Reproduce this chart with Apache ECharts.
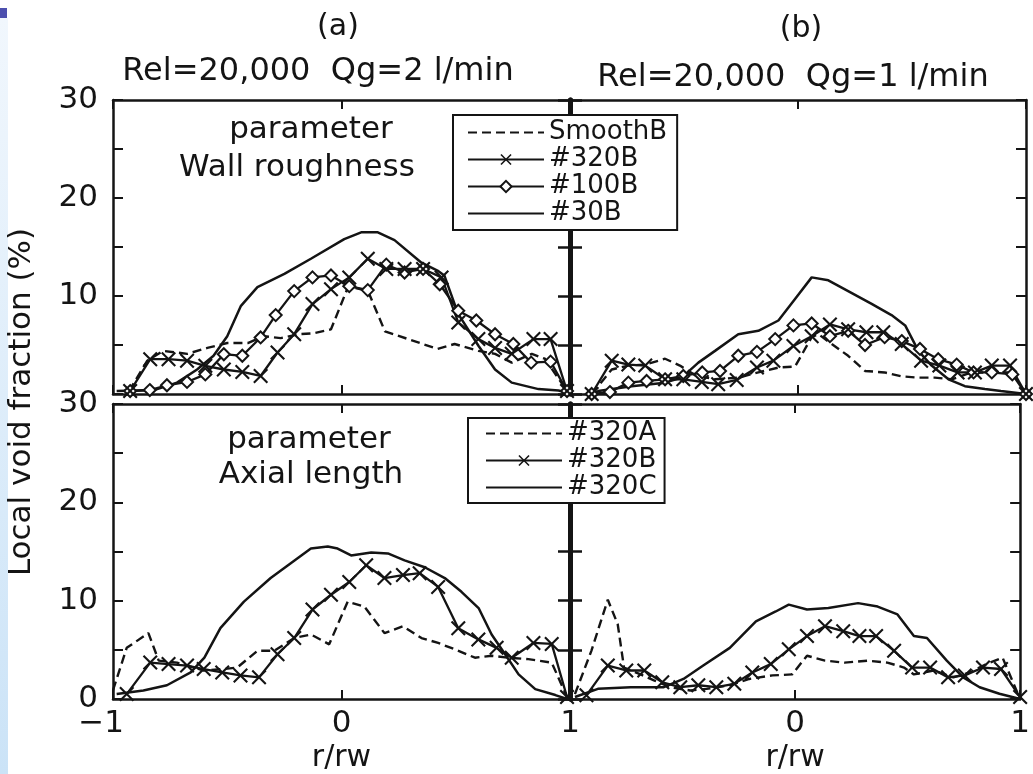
<!DOCTYPE html>
<html>
<head>
<meta charset="utf-8">
<script src="https://cdn.jsdelivr.net/npm/echarts/dist/echarts.min.js"></script>
<style>
html, body { margin: 0; padding: 0; background: #fff; }
#chart { width: 1033px; height: 774px; }
</style>
</head>
<body>
<div id="chart"></div>
<script>
// ---- data: local void fraction (%) against r/rw ----
// (a) Rel=20,000, Qg=2 l/min — wall roughness
const smoothB_a = [[-0.93,0.3],[-0.85,3.4],[-0.78,4.4],[-0.675,4.1],[-0.587,4.7],[-0.5,5.2],[-0.41,5.2],[-0.34,5.9],[-0.266,5.7],[-0.19,6.1],[-0.12,6.2],[-0.046,6.6],[0.03,11.0],[0.116,10.5],[0.19,6.4],[0.42,4.6],[0.495,5.1],[0.599,4.4],[0.672,4.1],[0.745,3.2],[0.833,4.1],[0.89,3.6],[0.987,0.3]];
const r320B_a = [[-0.925,0.3],[-0.837,3.55],[-0.757,3.55],[-0.676,3.4],[-0.596,2.87],[-0.515,2.5],[-0.434,2.25],[-0.354,1.84],[-0.28,4.23],[-0.207,6.1],[-0.127,9.18],[-0.046,10.7],[0.034,11.9],[0.115,13.8],[0.196,12.76],[0.276,12.76],[0.357,12.76],[0.438,11.9],[0.511,7.3],[0.599,5.6],[0.672,4.7],[0.745,4.1],[0.84,5.6],[0.915,5.6],[0.987,0.3]];
const r100B_a = [[-0.925,0.3],[-0.839,0.4],[-0.764,0.89],[-0.676,1.23],[-0.596,2.0],[-0.515,4.06],[-0.434,3.9],[-0.354,5.77],[-0.288,8.05],[-0.207,10.5],[-0.127,11.9],[-0.046,12.1],[0.034,11.0],[0.115,10.6],[0.196,13.2],[0.276,12.4],[0.357,12.76],[0.43,11.2],[0.511,8.5],[0.59,7.5],[0.672,6.1],[0.752,5.1],[0.83,3.2],[0.915,3.3],[0.987,0.3]];
const r30B_a = [[-0.984,0.3],[-0.82,0.4],[-0.72,1.16],[-0.632,2.5],[-0.56,3.9],[-0.5,5.9],[-0.44,9.0],[-0.368,10.9],[-0.25,12.25],[-0.134,13.8],[0.012,15.8],[0.086,16.5],[0.159,16.5],[0.232,15.7],[0.35,13.4],[0.42,12.6],[0.45,12.1],[0.51,8.2],[0.6,4.9],[0.672,2.5],[0.745,1.16],[0.862,0.5],[0.95,0.35],[0.99,0.1]];

// (b) Rel=20,000, Qg=1 l/min — wall roughness
const smoothB_b = [[-0.905,0],[-0.817,2.5],[-0.744,2.9],[-0.67,3.0],[-0.583,3.6],[-0.518,2.9],[-0.45,1.9],[-0.364,1.5],[-0.262,1.67],[-0.174,2.2],[-0.086,2.7],[-0.013,2.8],[0.06,5.8],[0.09,6.1],[0.148,5.1],[0.22,3.9],[0.294,2.35],[0.38,2.2],[0.455,1.8],[0.528,1.67],[0.6,1.67],[0.674,1.5],[0.762,2.2],[0.85,2.2],[0.94,2.2],[1.0,0]];
const r320B_b = [[-0.905,0],[-0.817,3.4],[-0.744,3.0],[-0.67,2.9],[-0.583,1.5],[-0.503,1.5],[-0.422,1.23],[-0.35,1.0],[-0.269,1.43],[-0.18,2.7],[-0.108,3.4],[-0.02,4.9],[0.06,5.9],[0.14,7.1],[0.22,6.6],[0.3,6.3],[0.374,6.3],[0.455,5.1],[0.54,3.4],[0.62,2.9],[0.7,2.2],[0.776,2.2],[0.85,2.9],[0.93,2.9],[1.0,0]];
const r100B_b = [[-0.905,0],[-0.825,0.2],[-0.744,1.16],[-0.664,1.33],[-0.583,1.5],[-0.503,1.84],[-0.42,2.2],[-0.342,2.35],[-0.262,3.9],[-0.18,4.3],[-0.1,5.6],[-0.02,7.0],[0.06,7.2],[0.14,5.9],[0.22,6.45],[0.294,5.0],[0.38,5.8],[0.455,5.4],[0.535,4.6],[0.615,3.55],[0.696,3.0],[0.77,2.2],[0.85,2.2],[0.94,2.0],[1.0,0]];
const r30B_b = [[-0.905,0],[-0.876,0.3],[-0.73,0.8],[-0.583,1.16],[-0.51,1.67],[-0.437,3.2],[-0.364,4.4],[-0.262,6.1],[-0.174,6.45],[-0.086,7.5],[-0.013,9.7],[0.06,11.9],[0.133,11.6],[0.22,10.5],[0.323,9.2],[0.41,8.05],[0.47,7.0],[0.528,4.4],[0.586,2.9],[0.66,1.5],[0.732,0.8],[0.82,0.5],[0.89,0.3],[1.0,0]];

// (a) axial length
const a320A_a = [[-1.0,0.9],[-0.94,5.2],[-0.845,6.7],[-0.8,3.9],[-0.72,3.7],[-0.603,2.9],[-0.515,3.05],[-0.456,3.2],[-0.368,4.9],[-0.295,4.9],[-0.207,6.2],[-0.134,6.56],[-0.054,5.56],[0.027,9.9],[0.1,9.4],[0.188,6.7],[0.269,7.4],[0.35,6.2],[0.423,5.7],[0.496,5.05],[0.584,4.2],[0.657,4.4],[0.73,4.2],[0.818,4.05],[0.92,3.7],[0.987,0.2]];
const a320B_a = [[-0.94,0.5],[-0.837,3.7],[-0.757,3.55],[-0.676,3.4],[-0.603,3.05],[-0.522,2.7],[-0.442,2.4],[-0.361,2.2],[-0.28,4.55],[-0.207,6.2],[-0.127,9.1],[-0.046,10.6],[0.034,11.9],[0.108,13.6],[0.188,12.3],[0.269,12.6],[0.342,12.8],[0.423,11.4],[0.511,7.2],[0.599,6.06],[0.679,5.2],[0.745,4.2],[0.84,5.7],[0.92,5.6],[0.987,0.2]];
const a320C_a = [[-0.984,0.5],[-0.867,0.87],[-0.764,1.4],[-0.66,2.7],[-0.6,4.2],[-0.53,7.2],[-0.427,9.9],[-0.31,12.3],[-0.222,13.8],[-0.134,15.3],[-0.06,15.5],[-0.017,15.3],[0.042,14.6],[0.13,14.9],[0.203,14.8],[0.276,14.1],[0.364,13.4],[0.452,12.3],[0.525,10.9],[0.6,9.25],[0.657,6.56],[0.716,4.55],[0.775,2.5],[0.848,1.0],[0.936,0.4],[0.987,0]];

// (b) axial length
const a320A_b = [[-0.978,0.5],[-0.905,4.9],[-0.832,10.1],[-0.788,7.6],[-0.76,3.2],[-0.686,2.5],[-0.627,1.9],[-0.554,1.2],[-0.466,0.87],[-0.393,1.03],[-0.29,1.4],[-0.203,2.04],[-0.1,2.4],[-0.013,2.5],[0.053,4.4],[0.133,3.9],[0.22,3.7],[0.323,3.9],[0.41,3.7],[0.484,3.2],[0.528,2.5],[0.615,2.9],[0.703,2.2],[0.776,2.7],[0.85,3.55],[0.922,4.2],[0.996,0.2]];
const a320B_b = [[-0.927,0.37],[-0.832,3.4],[-0.75,2.9],[-0.67,2.9],[-0.59,1.7],[-0.51,1.2],[-0.43,1.4],[-0.35,1.2],[-0.27,1.54],[-0.19,2.7],[-0.108,3.55],[-0.028,5.05],[0.053,6.4],[0.133,7.4],[0.214,6.9],[0.286,6.4],[0.36,6.4],[0.44,4.9],[0.52,3.2],[0.6,3.2],[0.68,2.2],[0.754,2.4],[0.835,3.2],[0.915,3.05],[1.0,0.2]];
const a320C_b = [[-0.978,0.2],[-0.876,1.03],[-0.73,1.2],[-0.583,1.2],[-0.496,2.04],[-0.408,3.4],[-0.29,5.2],[-0.174,7.9],[-0.086,8.9],[-0.028,9.6],[0.053,9.1],[0.148,9.25],[0.28,9.75],[0.367,9.4],[0.455,8.6],[0.528,6.4],[0.586,6.2],[0.674,3.9],[0.747,2.2],[0.82,1.2],[0.908,0.53],[1.0,0]];

// ---- labels ----
const roughnessNames = ['SmoothB', '#320B', '#100B', '#30B'];
const axialNames = ['#320A', '#320B', '#320C'];
const panelTags = ['(a)', '(b)'];
const conditions = ['Rel=20,000  Qg=2 l/min', 'Rel=20,000  Qg=1 l/min'];
const xTitle = 'r/rw';
const yTitle = 'Local void fraction (%)';

// ---- styling ----
const FONT = 'DejaVu Sans';
const INK = '#141414';
const CLEAR = 'rgba(0,0,0,0)';
const CROSS = 'path://M0,1L1,0L5,4L9,0L10,1L6,5L10,9L9,10L5,6L1,10L0,9L4,5Z';

const grids = [
  { left: 113, top: 100, width: 457, height: 294 },
  { left: 570, top: 100, width: 456, height: 294 },
  { left: 113, top: 404, width: 457, height: 298 },
  { left: 570, top: 404, width: 456, height: 298 }
];

const xAxes = [];
const yAxes = [];
grids.forEach((g, i) => {
  const isBottomRow = i >= 2;
  const isLeftCol = i % 2 === 0;
  const xBase = {
    type: 'value', gridIndex: i, min: -1, max: 1, interval: 1,
    splitLine: { show: false },
    axisLine: { onZero: false, lineStyle: { color: INK, width: 2.5 } },
    axisTick: { inside: true, length: 9, lineStyle: { color: INK, width: 2 } }
  };
  xAxes.push(Object.assign({}, xBase, {
    position: 'bottom',
    axisLabel: isBottomRow ? {
      show: true, margin: 9, color: INK, fontFamily: FONT, fontSize: 31,
      showMinLabel: true, showMaxLabel: true,
      formatter: v => v === -1 ? (isLeftCol ? '{m|\u22121}' : '') : String(v),
      rich: { m: { fontFamily: FONT, fontSize: 31, color: INK, padding: [0, 24, 0, 0] } }
    } : { show: false },
    name: isBottomRow ? xTitle : '',
    nameLocation: 'middle', nameGap: 44,
    nameTextStyle: { color: INK, fontFamily: FONT, fontSize: 30 }
  }));
  xAxes.push(Object.assign({}, xBase, { position: 'top', axisLabel: { show: false } }));

  const yBase = {
    type: 'value', gridIndex: i, min: 0, max: 30, interval: 5,
    splitLine: { show: false }
  };
  // outer edge of the pair of panels
  const outer = {
    axisLine: { onZero: false, lineStyle: { color: INK, width: 2.5 } },
    axisTick: { inside: true, length: 10, lineStyle: { color: INK, width: 2 } }
  };
  // heavy shared divider between (a) and (b)
  const divider = {
    axisLine: { onZero: false, lineStyle: { color: INK, width: 5 } },
    axisTick: { inside: true, length: 12, lineStyle: { color: INK, width: 2.5 } },
    axisLabel: { show: false }
  };
  if (isLeftCol) {
    yAxes.push(Object.assign({}, yBase, outer, {
      position: 'left',
      axisLabel: {
        show: true, margin: 15, color: INK, fontFamily: FONT, fontSize: 31,
        formatter: v => (v % 10 === 0 && (isBottomRow || v !== 0)) ? String(v) : ''
      }
    }));
    yAxes.push(Object.assign({}, yBase, divider, { position: 'right' }));
  } else {
    yAxes.push(Object.assign({}, yBase, divider, { position: 'left' }));
    yAxes.push(Object.assign({}, yBase, outer, { position: 'right', axisLabel: { show: false } }));
  }
});

// plain lines carry a clear item colour so their legend keys show only the stroke
const looks = {
  dashed: { symbol: 'none', itemStyle: { color: CLEAR }, lineStyle: { type: [9, 5], width: 2.4, color: INK } },
  cross: { symbol: CROSS, symbolSize: 15, itemStyle: { color: INK }, lineStyle: { width: 2.3, color: INK } },
  diamond: { symbol: 'emptyDiamond', symbolSize: 12, itemStyle: { color: INK, borderColor: INK, borderWidth: 2 }, lineStyle: { width: 2.3, color: INK } },
  solid: { symbol: 'none', itemStyle: { color: CLEAR }, lineStyle: { width: 2.5, color: INK } }
};

function curve(name, data, panel, look) {
  return Object.assign({
    type: 'line', name: name, data: data,
    xAxisIndex: panel * 2, yAxisIndex: panel * 2,
    animation: false, silent: true
  }, JSON.parse(JSON.stringify(looks[look])));
}

const series = [
  curve('SmoothB', smoothB_a, 0, 'dashed'),
  curve('#30B', r30B_a, 0, 'solid'),
  curve('#100B', r100B_a, 0, 'diamond'),
  curve('#320B', r320B_a, 0, 'cross'),
  curve('SmoothB', smoothB_b, 1, 'dashed'),
  curve('#30B', r30B_b, 1, 'solid'),
  curve('#100B', r100B_b, 1, 'diamond'),
  curve('#320B', r320B_b, 1, 'cross'),
  curve('#320A', a320A_a, 2, 'dashed'),
  curve('#320C', a320C_a, 2, 'solid'),
  curve('#320B', a320B_a, 2, 'cross'),
  curve('#320A', a320A_b, 3, 'dashed'),
  curve('#320C', a320C_b, 3, 'solid'),
  curve('#320B', a320B_b, 3, 'cross')
];

const legendBase = {
  orient: 'vertical', itemWidth: 76, itemHeight: 14, itemGap: 0,
  backgroundColor: '#fff', borderColor: INK, borderWidth: 2, borderRadius: 0,
  selectedMode: false, z: 10,
  textStyle: { fontFamily: FONT, fontSize: 26, color: INK, lineHeight: 27 }
};

function label(text, x, y, size, extra) {
  return Object.assign({
    type: 'text', x: x, y: y, z: 20,
    style: { text: text, fontFamily: FONT, fontSize: size, fill: INK, textAlign: 'center', textVerticalAlign: 'middle' }
  }, extra || {});
}

const chart = echarts.init(document.getElementById('chart'), null, { renderer: 'canvas' });
chart.setOption({
  backgroundColor: '#fff',
  animation: false,
  grid: grids,
  xAxis: xAxes,
  yAxis: yAxes,
  legend: [
    Object.assign({}, legendBase, { data: roughnessNames, left: 453, top: 115, padding: [4, 10, 3, 14] }),
    Object.assign({}, legendBase, { data: axialNames, left: 468, top: 418, padding: [2, 8, 2, 17] })
  ],
  graphic: [
    { type: 'rect', shape: { x: 0, y: 18, width: 8, height: 756 }, z: 0,
      style: { fill: new echarts.graphic.LinearGradient(0, 0, 0, 1, [
        { offset: 0, color: '#f1f7fd' }, { offset: 1, color: '#cbe3f7' }]) } },
    { type: 'rect', shape: { x: 0, y: 8, width: 7, height: 10 }, z: 0, style: { fill: '#4c4fae' } },
    label(panelTags[0], 338, 27, 30),
    label(panelTags[1], 801, 29, 30),
    label(conditions[0], 318, 72, 32),
    label(conditions[1], 793, 78, 32),
    label('parameter', 311, 130, 31),
    label('Wall roughness', 297, 168, 31),
    label('parameter', 309, 440, 31),
    label('Axial length', 311, 475, 31),
    label(yTitle, 22, 402, 31, { rotation: Math.PI / 2 })
  ],
  series: series
});
</script>
</body>
</html>
